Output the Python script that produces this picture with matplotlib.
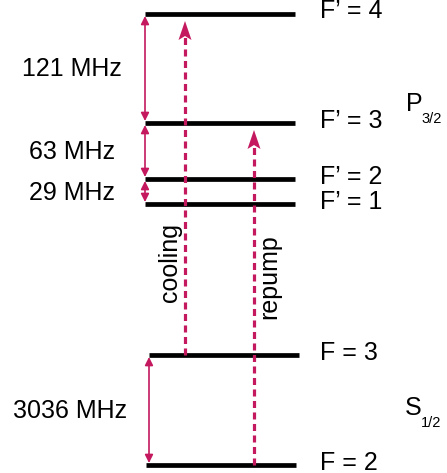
import matplotlib
matplotlib.use("Agg")
import matplotlib.pyplot as plt
from matplotlib.patches import FancyArrowPatch, Polygon

# hyperfine levels (vertical position on the schematic, top = 0)
level_names = ["F\u2019 = 4", "F\u2019 = 3", "F\u2019 = 2", "F\u2019 = 1", "F = 3", "F = 2"]
level_y = [14, 123, 179, 204, 355, 465]
level_x0 = [145, 145, 145, 145, 149, 146]

# splittings: (upper level, lower level, label)
split_pairs = [(0, 1), (1, 2), (2, 3), (4, 5)]
split_labels = ["121 MHz", "63 MHz", "29 MHz", "3036 MHz"]

# laser transitions: (from level, to level, label)
trans_pairs = [(4, 0), (5, 1)]
trans_labels = ["cooling", "repump"]

mag = "#c4195f"
plt.rcParams["font.family"] = ["Liberation Sans", "DejaVu Sans"]

fig = plt.figure(figsize=(4.47, 4.73), dpi=100)
ax = fig.add_axes([0, 0, 1, 1])
ax.set_xlim(0, 447)
ax.set_ylim(473, 0)
ax.axis("off")

fs = 18
width = 150

for name, y, x0 in zip(level_names, level_y, level_x0):
    ax.plot([x0, x0 + width], [y, y], color="black", lw=3.4, solid_capstyle="butt")
    ax.text(320, y - 2.5, name, fontsize=fs, va="center", ha="left")

split_x = [145, 145, 145, 149]
split_tx = [72, 72, 72, 70]
for (a, b), lab, x, tx in zip(split_pairs, split_labels, split_x, split_tx):
    ya, yb = level_y[a] + 2, level_y[b] - 2
    arr = FancyArrowPatch((x, ya), (x, yb), arrowstyle="<|-|>", mutation_scale=12,
                          color=mag, lw=1.2, shrinkA=0, shrinkB=0)
    ax.add_patch(arr)
    ax.text(tx, (level_y[a] + level_y[b]) / 2 + 1, lab, fontsize=fs, ha="center", va="center")

trans_x = [185, 254]
trans_tx = [170, 269]
trans_ty = [262, 277]
for (a, b), lab, x, tx, ty in zip(trans_pairs, trans_labels, trans_x, trans_tx, trans_ty):
    y0, y1 = level_y[a], level_y[b] + 7
    ax.plot([x, x], [y0, y1 + 16], color=mag, lw=2.3, dashes=(2.2, 1.4))
    head = Polygon([(x, y1), (x - 6.5, y1 + 19), (x, y1 + 15), (x + 6.5, y1 + 19)],
                   closed=True, color=mag, lw=0)
    ax.add_patch(head)
    ax.text(tx, ty, lab, fontsize=fs, rotation=90, ha="center", va="center")

ax.text(406, 104, "P", fontsize=fs, ha="left", va="center")
ax.text(421, 119, "3/2", fontsize=10.5, ha="left", va="center")
ax.text(405, 408, "S", fontsize=fs, ha="left", va="center")
ax.text(421, 423, "1/2", fontsize=10.5, ha="left", va="center")

fig.savefig("out.png", dpi=100)
